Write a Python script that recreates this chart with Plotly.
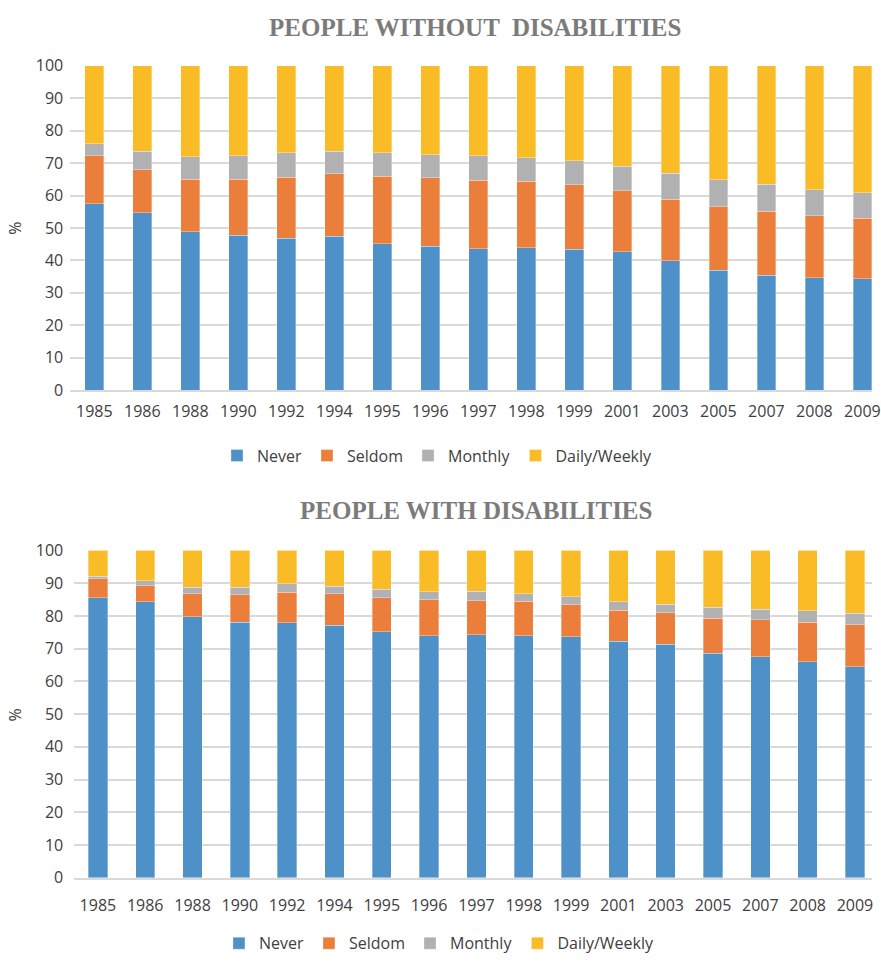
import plotly.graph_objects as go

# Survey years (category axis)
years = ["1985", "1986", "1988", "1990", "1992", "1994", "1995", "1996", "1997",
         "1998", "1999", "2001", "2003", "2005", "2007", "2008", "2009"]

series_names = ["Never", "Seldom", "Monthly", "Daily/Weekly"]

# People without disabilities (% of respondents)
without_never = [57.4, 54.7, 48.9, 47.8, 46.9, 47.4, 45.1, 44.3, 43.6, 43.9, 43.5, 42.6, 39.9, 37.0, 35.4, 34.7, 34.4]
without_seldom = [14.9, 13.3, 16.1, 17.2, 18.7, 19.3, 20.8, 21.1, 21.1, 20.5, 19.8, 18.8, 18.9, 19.5, 19.7, 19.1, 18.6]
without_monthly = [3.6, 5.7, 6.9, 7.3, 7.6, 7.0, 7.3, 7.2, 7.5, 7.2, 7.4, 7.6, 8.1, 8.3, 8.3, 8.0, 7.8]
without_daily = [24.1, 26.3, 28.1, 27.7, 26.8, 26.3, 26.8, 27.4, 27.8, 28.4, 29.3, 31.0, 33.1, 35.2, 36.6, 38.2, 39.2]

# People with disabilities (% of respondents)
with_never = [85.5, 84.3, 79.7, 78.1, 77.9, 77.1, 75.2, 74.0, 74.3, 74.0, 73.7, 72.2, 71.3, 68.6, 67.5, 66.0, 64.5]
with_seldom = [5.9, 4.9, 7.0, 8.3, 9.3, 9.6, 10.4, 11.0, 10.3, 10.5, 9.7, 9.5, 9.6, 10.7, 11.4, 12.0, 12.8]
with_monthly = [0.7, 1.5, 2.1, 2.4, 2.6, 2.3, 2.5, 2.4, 2.9, 2.3, 2.5, 2.6, 2.6, 3.3, 3.2, 3.5, 3.5]
with_daily = [7.9, 9.3, 11.2, 11.2, 10.2, 11.0, 11.9, 12.6, 12.5, 13.2, 14.1, 15.7, 16.5, 17.4, 17.9, 18.5, 19.2]

y_ticks = [0, 10, 20, 30, 40, 50, 60, 70, 80, 90, 100]

colors = ["#4D91C8", "#EC7E3C", "#B1B1B4", "#F9BC27"]

W, H = 881, 966
TEXT = "#404040"
GRID = "#D9D9D9"
tick_font = dict(family="Open Sans", size=16, color=TEXT)

fig = go.Figure()

panels = [
    ([without_never, without_seldom, without_monthly, without_daily], "x", "y", "legend", 0.39),
    ([with_never, with_seldom, with_monthly, with_daily], "x2", "y2", "legend2", 0.41),
]
for values, xa, ya, lg, bw in panels:
    for name, vals, col in zip(series_names, values, colors):
        fig.add_trace(go.Bar(
            x=years, y=vals, name=name, xaxis=xa, yaxis=ya, legend=lg,
            width=bw,
            marker=dict(color=col, line=dict(color="rgba(255,255,255,0.55)", width=0.6)),
        ))


def px_x(v):
    return v / W


def px_y(v):
    return 1 - v / H


common_x = dict(type="category", showgrid=False, showline=True, linecolor=GRID,
                linewidth=1.5, ticks="", tickfont=tick_font, fixedrange=True)
common_y = dict(range=[0, 100], tickvals=y_ticks, showgrid=True, gridcolor=GRID,
                gridwidth=1.5, zeroline=False, showline=False, ticks="",
                tickfont=tick_font, fixedrange=True)

fig.update_layout(
    width=W, height=H,
    margin=dict(l=0, r=0, t=0, b=0),
    paper_bgcolor="white", plot_bgcolor="white",
    barmode="stack",
    showlegend=True,
    xaxis=dict(common_x, domain=[px_x(71), 1], range=[-0.5, 16.2],
               anchor="y", ticklabelstandoff=6),
    yaxis=dict(common_y, domain=[px_y(388), px_y(56)], anchor="x",
               ticklabelstandoff=6),
    xaxis2=dict(common_x, domain=[px_x(75), 1], range=[-0.5, 16.36],
                anchor="y2", ticklabelstandoff=12),
    yaxis2=dict(common_y, domain=[px_y(887), px_y(552)], anchor="x2",
                ticklabelstandoff=10),
    legend=dict(orientation="h", x=px_x(442), xanchor="center",
                y=px_y(455), yanchor="middle", font=tick_font,
                bgcolor="rgba(0,0,0,0)", traceorder="normal"),
    legend2=dict(orientation="h", x=px_x(444), xanchor="center",
                 y=px_y(954), yanchor="middle", font=tick_font,
                 bgcolor="rgba(0,0,0,0)", traceorder="normal"),
)

title_font = dict(family="Liberation Serif", size=25, color="#7B7B7B")
fig.add_annotation(text="<b>PEOPLE WITHOUT \u00a0DISABILITIES</b>", xref="paper", yref="paper",
                   x=px_x(480), y=px_y(17), xanchor="center", yanchor="middle",
                   showarrow=False, font=title_font)
fig.add_annotation(text="<b>PEOPLE WITH DISABILITIES</b>", xref="paper", yref="paper",
                   x=px_x(481), y=px_y(511), xanchor="center", yanchor="middle",
                   showarrow=False, font=title_font)
for yc in (222, 720):
    fig.add_annotation(text="%", xref="paper", yref="paper",
                       x=px_x(15), y=px_y(yc), xanchor="center", yanchor="middle",
                       textangle=-90, showarrow=False, font=tick_font)

fig.write_html("out.html")
